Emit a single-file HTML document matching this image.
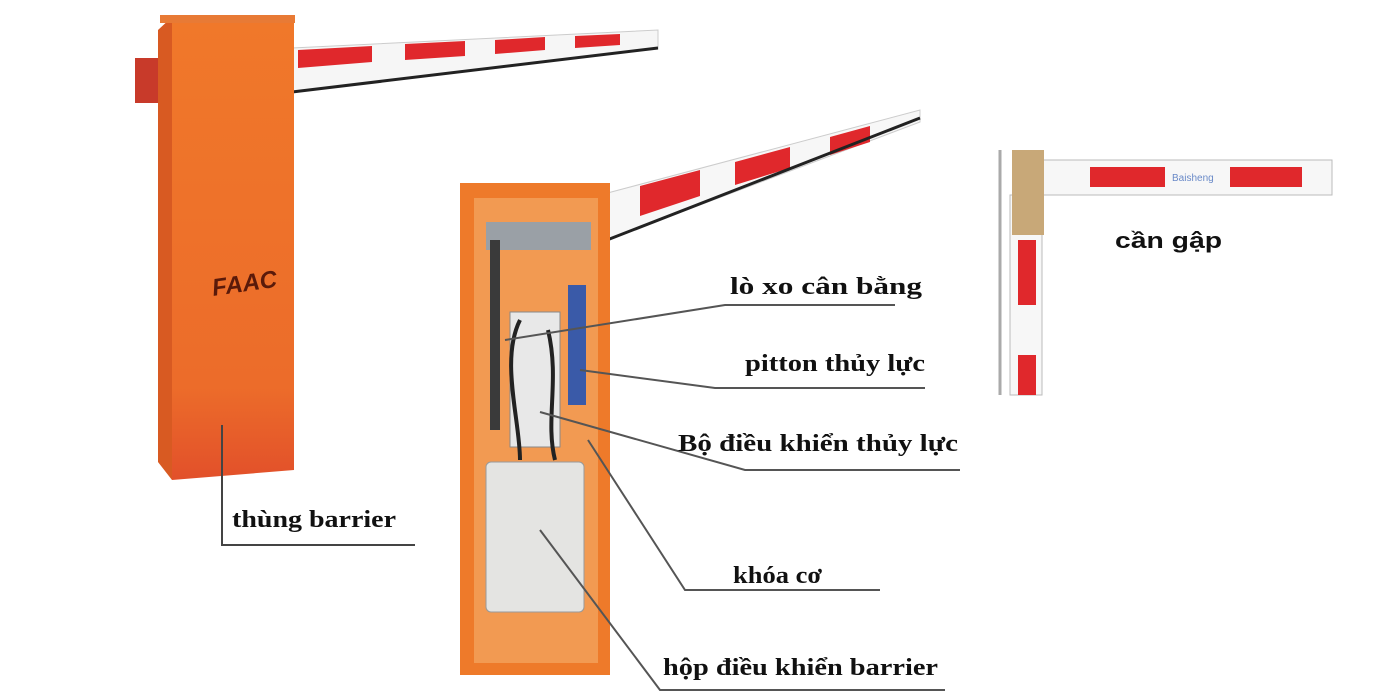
<!DOCTYPE html>
<html><head><meta charset="utf-8"><style>
html,body{margin:0;padding:0;background:#fff;width:1400px;height:700px;overflow:hidden}
svg{display:block}
.l{font-family:"Liberation Serif",serif;font-weight:bold;font-size:24px;fill:#111}
</style></head><body>
<svg width="1400" height="700" viewBox="0 0 1400 700">
<defs>
<linearGradient id="og" x1="0" y1="0" x2="0" y2="1">
<stop offset="0" stop-color="#f0782a"/><stop offset="0.8" stop-color="#ec6c2a"/><stop offset="1" stop-color="#e2502a"/>
</linearGradient>
</defs>
<polygon points="292,48 658,30 658,48 292,92" fill="#f6f6f6" stroke="#ccc"/>
<g fill="#e0282c">
<polygon points="298,50 372,46 372,62 298,68"/>
<polygon points="405,44 465,41 465,56 405,60"/>
<polygon points="495,40 545,37 545,50 495,54"/>
<polygon points="575,36 620,34 620,45 575,48"/>
</g>
<line x1="292" y1="92" x2="658" y2="48" stroke="#222" stroke-width="3"/>
<rect x="135" y="58" width="28" height="45" fill="#c83a2a"/>
<polygon points="158,30 172,17 172,480 158,462" fill="#d85a22"/>
<polygon points="172,17 294,17 294,470 172,480" fill="url(#og)"/>
<rect x="160" y="15" width="135" height="8" fill="#e87a35"/>
<text x="212" y="292" transform="rotate(-8 240 285)" font-family="Liberation Sans,sans-serif" font-style="italic" font-weight="bold" font-size="24" fill="#5a1a0a">FAAC</text>
<polyline points="222,425 222,545 415,545" fill="none" stroke="#444" stroke-width="2"/>
<text class="l" x="232" y="527" textLength="164" lengthAdjust="spacingAndGlyphs">thùng barrier</text>
<polygon points="600,195 920,110 920,122 607,240" fill="#f7f7f7" stroke="#ccc"/>
<g fill="#e0282c">
<polygon points="640,186 700,170 700,196 640,216"/>
<polygon points="735,162 790,147 790,168 735,185"/>
<polygon points="830,137 870,126 870,142 830,155"/>
</g>
<line x1="607" y1="240" x2="920" y2="118" stroke="#222" stroke-width="3"/>
<rect x="460" y="183" width="150" height="492" fill="#ee7a2a"/>
<rect x="474" y="198" width="124" height="465" fill="#f29a52"/>
<rect x="486" y="222" width="105" height="28" fill="#9aa0a6"/>
<rect x="490" y="240" width="10" height="190" fill="#3a3a3a"/>
<rect x="510" y="312" width="50" height="135" fill="#e8e8e8" stroke="#888"/>
<rect x="568" y="285" width="18" height="120" fill="#3a5aa8"/>
<rect x="486" y="462" width="98" height="150" rx="5" fill="#e4e4e2" stroke="#999"/>
<path d="M520 320 C500 360 520 420 520 460" stroke="#222" stroke-width="4" fill="none"/>
<path d="M548 330 C560 380 545 420 555 460" stroke="#222" stroke-width="4" fill="none"/>
<g stroke="#555" stroke-width="2" fill="none">
<polyline points="505,340 725,305 895,305"/>
<polyline points="580,370 715,388 925,388"/>
<polyline points="540,412 745,470 960,470"/>
<polyline points="588,440 685,590 880,590"/>
<polyline points="540,530 660,690 945,690"/>
</g>
<text class="l" x="730" y="294" textLength="192" lengthAdjust="spacingAndGlyphs">lò xo cân bằng</text>
<text class="l" x="745" y="371" textLength="180" lengthAdjust="spacingAndGlyphs">pitton thủy lực</text>
<text class="l" x="678" y="451" textLength="280" lengthAdjust="spacingAndGlyphs">Bộ điều khiển thủy lực</text>
<text class="l" x="733" y="583" textLength="89" lengthAdjust="spacingAndGlyphs">khóa cơ</text>
<text class="l" x="663" y="675" textLength="275" lengthAdjust="spacingAndGlyphs">hộp điều khiển barrier</text>
<rect x="1040" y="160" width="292" height="35" fill="#f7f7f7" stroke="#bbb"/>
<rect x="1090" y="167" width="75" height="20" fill="#e0282c"/>
<rect x="1230" y="167" width="72" height="20" fill="#e0282c"/>
<text x="1172" y="181" font-family="Liberation Sans,sans-serif" font-size="10" fill="#6a8ac8">Baisheng</text>
<rect x="1010" y="195" width="32" height="200" fill="#f7f7f7" stroke="#bbb"/>
<rect x="1018" y="240" width="18" height="65" fill="#e0282c"/>
<rect x="1018" y="355" width="18" height="40" fill="#e0282c"/>
<line x1="1000" y1="150" x2="1000" y2="395" stroke="#aaa" stroke-width="3"/>
<rect x="1012" y="150" width="32" height="85" fill="#c8a878"/>
<text x="1115" y="248" font-family="Liberation Sans,sans-serif" font-weight="bold" font-size="22" fill="#111" textLength="107" lengthAdjust="spacingAndGlyphs">cần gập</text>
</svg>
</body></html>
